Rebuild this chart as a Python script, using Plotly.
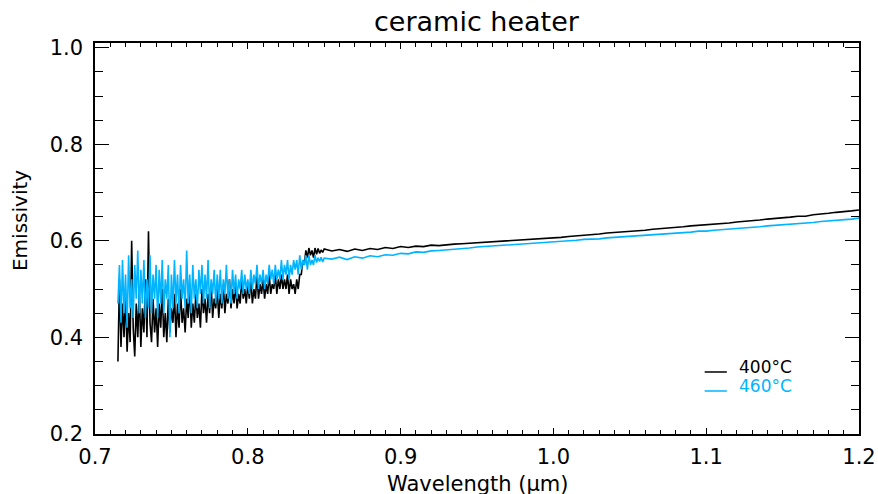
import numpy as np
import plotly.graph_objects as go

# ---------------- data ----------------
SERIES_NAMES = ["400°C", "460°C"]
SERIES_COLORS = ["#000000", "#00B4FF"]

# noisy short-wavelength part: wavelengths 0.715 .. 0.850 um, 0.001 um apart
NOISY_START = 0.715
NOISY_STEP = 0.001
black_noisy = [
    0.35, 0.52, 0.38, 0.47, 0.40, 0.49, 0.37, 0.45, 0.39, 0.60,
    0.42, 0.36, 0.47, 0.40, 0.50, 0.38, 0.46, 0.41, 0.52, 0.40,
    0.62, 0.43, 0.39, 0.48, 0.41, 0.46, 0.38, 0.47, 0.42, 0.50,
    0.40, 0.45, 0.39, 0.48, 0.41, 0.46, 0.43, 0.49, 0.40, 0.47,
    0.42, 0.50, 0.43, 0.46, 0.41, 0.48, 0.44, 0.51, 0.42, 0.47,
    0.43, 0.49, 0.44, 0.47, 0.42, 0.50, 0.45, 0.48, 0.43, 0.49,
    0.45, 0.51, 0.44, 0.48, 0.46, 0.50, 0.44, 0.49, 0.46, 0.51,
    0.45, 0.49, 0.47, 0.52, 0.46, 0.50, 0.47, 0.51, 0.46, 0.49,
    0.47, 0.52, 0.48, 0.50, 0.47, 0.51, 0.48, 0.52, 0.47, 0.50,
    0.48, 0.53, 0.48, 0.51, 0.49, 0.52, 0.48, 0.51, 0.49, 0.53,
    0.49, 0.51, 0.50, 0.53, 0.49, 0.52, 0.50, 0.53, 0.50, 0.52,
    0.50, 0.53, 0.49, 0.52, 0.50, 0.51, 0.49, 0.52, 0.50, 0.53,
    0.53, 0.56, 0.55, 0.58, 0.565, 0.585, 0.57, 0.58, 0.565, 0.585,
    0.572, 0.584, 0.574, 0.581, 0.576, 0.583,
]
blue_noisy = [
    0.47, 0.55, 0.43, 0.56, 0.45, 0.53, 0.42, 0.57, 0.46, 0.52,
    0.44, 0.55, 0.48, 0.58, 0.45, 0.54, 0.47, 0.56, 0.44, 0.52,
    0.46, 0.57, 0.45, 0.53, 0.48, 0.55, 0.44, 0.54, 0.47, 0.56,
    0.45, 0.52, 0.48, 0.55, 0.40, 0.53, 0.46, 0.56, 0.47, 0.53,
    0.45, 0.55, 0.48, 0.52, 0.46, 0.58, 0.47, 0.53, 0.45, 0.55,
    0.48, 0.52, 0.46, 0.54, 0.49, 0.55, 0.47, 0.53, 0.48, 0.56,
    0.46, 0.52, 0.49, 0.54, 0.47, 0.53, 0.48, 0.54, 0.47, 0.52,
    0.49, 0.55, 0.48, 0.52, 0.47, 0.54, 0.49, 0.53, 0.48, 0.52,
    0.50, 0.54, 0.49, 0.53, 0.50, 0.52, 0.49, 0.54, 0.50, 0.53,
    0.51, 0.55, 0.50, 0.53, 0.51, 0.54, 0.50, 0.53, 0.51, 0.55,
    0.52, 0.54, 0.51, 0.55, 0.52, 0.54, 0.52, 0.56, 0.52, 0.55,
    0.53, 0.56, 0.52, 0.55, 0.53, 0.56, 0.54, 0.56, 0.53, 0.57,
    0.54, 0.56, 0.55, 0.57, 0.54, 0.57, 0.55, 0.56, 0.55, 0.57,
    0.555, 0.565, 0.557, 0.566, 0.556, 0.564,
]

# smooth long-wavelength part: wavelengths 0.855 .. 1.200 um, 0.005 um apart
SMOOTH_START = 0.855
SMOOTH_STEP = 0.005
black_smooth = [
    0.579, 0.582, 0.578, 0.583, 0.580, 0.584, 0.582, 0.586, 0.584, 0.588,
    0.586, 0.589, 0.588, 0.591, 0.590, 0.592, 0.593, 0.594, 0.595, 0.596,
    0.597, 0.598, 0.598, 0.600, 0.601, 0.602, 0.603, 0.603, 0.605, 0.606,
    0.607, 0.609, 0.610, 0.611, 0.613, 0.614, 0.616, 0.617, 0.618, 0.619,
    0.621, 0.622, 0.624, 0.625, 0.626, 0.628, 0.629, 0.631, 0.632, 0.633,
    0.635, 0.636, 0.637, 0.639, 0.640, 0.642, 0.643, 0.645, 0.646, 0.647,
    0.649, 0.651, 0.651, 0.654, 0.655, 0.657, 0.659, 0.660, 0.662, 0.664,
]
blue_smooth = [
    0.562, 0.566, 0.561, 0.567, 0.564, 0.569, 0.567, 0.571, 0.570, 0.574,
    0.573, 0.577, 0.576, 0.579, 0.580, 0.581, 0.583, 0.584, 0.585, 0.587,
    0.588, 0.589, 0.590, 0.591, 0.593, 0.594, 0.595, 0.596, 0.597, 0.598,
    0.599, 0.600, 0.601, 0.603, 0.603, 0.604, 0.606, 0.607, 0.608, 0.609,
    0.610, 0.611, 0.613, 0.613, 0.615, 0.616, 0.617, 0.618, 0.620, 0.620,
    0.622, 0.623, 0.624, 0.626, 0.627, 0.628, 0.629, 0.631, 0.632, 0.633,
    0.634, 0.636, 0.637, 0.638, 0.640, 0.641, 0.642, 0.644, 0.645, 0.647,
]

TITLE = "ceramic heater"
X_TITLE = "Wavelength (μm)"
Y_TITLE = "Emissivity"
X_TICKS = [0.7, 0.8, 0.9, 1.0, 1.1, 1.2]
X_TICK_LABELS = ["0.7", "0.8", "0.9", "1.0", "1.1", "1.2"]
Y_TICKS = [0.2, 0.4, 0.6, 0.8, 1.0]
Y_TICK_LABELS = ["0.2", "0.4", "0.6", "0.8", "1.0"]


def wavelengths(start, step, n):
    return [round(start + step * i, 4) for i in range(n)]


series = [
    (wavelengths(NOISY_START, NOISY_STEP, len(black_noisy)) +
     wavelengths(SMOOTH_START, SMOOTH_STEP, len(black_smooth)),
     black_noisy + black_smooth),
    (wavelengths(NOISY_START, NOISY_STEP, len(blue_noisy)) +
     wavelengths(SMOOTH_START, SMOOTH_STEP, len(blue_smooth)),
     blue_noisy + blue_smooth),
]

FONT = "DejaVu Sans"

fig = go.Figure()
for (xs, ys), name, color in zip(series, SERIES_NAMES, SERIES_COLORS):
    fig.add_trace(go.Scatter(x=xs, y=ys, mode="lines", name=name,
                             line=dict(color=color, width=1.6),
                             showlegend=False))

axis_common = dict(showline=True, linecolor="black", linewidth=1.5,
                   mirror="ticks", ticks="inside", tickcolor="black",
                   tickwidth=1.2, showgrid=False, zeroline=False,
                   automargin=False,
                   tickfont=dict(family=FONT, size=21, color="black"))

fig.update_xaxes(range=[0.6999999, 1.2000001], tickvals=X_TICKS,
                 ticktext=X_TICK_LABELS, ticklen=6,
                 ticklabelstandoff=3,
                 minor=dict(dtick=0.01, tick0=0.7, ticks="inside", ticklen=4,
                            tickcolor="black", tickwidth=1.2, showgrid=False),
                 **axis_common)
fig.update_yaxes(range=[0.1995, 1.010], tickvals=Y_TICKS,
                 ticktext=Y_TICK_LABELS, ticklen=14,
                 ticklabelstandoff=6,
                 minor=dict(dtick=0.05, tick0=0.2, ticks="inside", ticklen=8,
                            tickcolor="black", tickwidth=1.2, showgrid=False),
                 **axis_common)

annotations = [
    dict(text=TITLE, x=0.5, y=1.054, xref="paper", yref="paper",
         xanchor="center", yanchor="middle", showarrow=False,
         font=dict(family=FONT, size=27, color="black")),
    dict(text=X_TITLE, x=0.5, y=-0.093, xref="paper", yref="paper",
         xanchor="center", yanchor="top", showarrow=False,
         font=dict(family=FONT, size=21, color="black")),
    dict(text=Y_TITLE, x=-0.098, y=0.545, xref="paper", yref="paper",
         xanchor="center", yanchor="middle", showarrow=False, textangle=-90,
         font=dict(family=FONT, size=20, color="black")),
]
legend_text_y = [0.1726, 0.1215]
legend_line_y = [0.1586, 0.110]
shapes = []
for name, color, ty, ly in zip(SERIES_NAMES, SERIES_COLORS, legend_text_y, legend_line_y):
    annotations.append(dict(text=name, x=0.8399, y=ty, xref="paper", yref="paper",
                            xanchor="left", yanchor="middle", showarrow=False,
                            font=dict(family=FONT, size=17, color=color)))
    shapes.append(dict(type="line", xref="paper", yref="paper",
                       x0=0.798, x1=0.827, y0=ly, y1=ly,
                       line=dict(color=color, width=1.5)))

fig.update_layout(width=878, height=494,
                  margin=dict(l=95, r=19, t=43, b=60),
                  paper_bgcolor="white", plot_bgcolor="white",
                  annotations=annotations, shapes=shapes,
                  font=dict(family=FONT, color="black"))

fig.write_html("out.html",
               config={"displayModeBar": False},
               post_script="document.body.style.margin='0';"
                           "document.body.style.overflow='hidden';")
